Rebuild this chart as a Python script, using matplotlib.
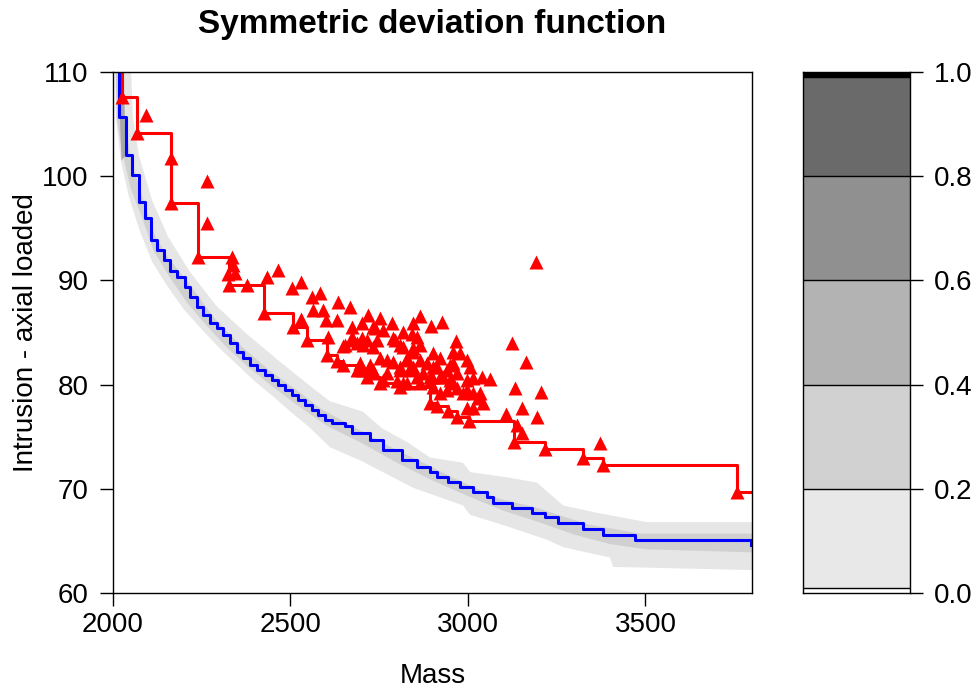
import numpy as np
import matplotlib.pyplot as plt

plt.rcParams['font.family'] = ['Liberation Sans', 'DejaVu Sans']

# observed designs (red triangles), mass / intrusion
obs_mass = [2093, 2163, 2265, 2265, 2335, 2338, 2324, 2344, 2377, 2434, 2465, 2504,
            2530, 2561, 2583, 2634, 2563, 2592, 2668, 2600, 2631, 2530, 2718, 2752,
            2786, 2845, 2865, 2927, 2896, 2673, 2701, 2732, 2761, 2817, 2842, 2856,
            2606, 2648, 2676, 2701, 2687, 2716, 2744, 2789, 2808, 2865, 2966, 3124,
            2817, 2845, 2901, 2921, 2958, 2977, 2997, 3163, 2704, 2732, 2794, 2752,
            2696, 2724, 2789, 2828, 2845, 2828, 2865, 2885, 2913, 2949, 3006, 2732,
            2761, 2772, 2808, 2837, 2856, 2901, 2893, 2921, 2941, 2958, 2837, 2873,
            2899, 2930, 2969, 3039, 3062, 2701, 2732, 2772, 2808, 2845, 2817, 2893,
            2949, 2997, 3014, 2800, 2828, 2865, 2901, 2921, 2969, 2986, 3014, 3028,
            3042, 2997, 2958, 2941, 3132, 3206, 3152, 3194, 3107, 2997, 3014, 3138,
            3152, 3192, 3372, 3034, 2654, 2673, 2738]
obs_intr = [105.9, 101.7, 99.5, 95.5, 92.2, 91.5, 90.6, 90.7, 89.6, 90.3, 91.0, 89.3,
            89.8, 88.4, 88.8, 87.9, 87.2, 87.2, 87.4, 86.2, 86.2, 86.3, 86.7, 86.4,
            85.9, 85.9, 86.6, 86.0, 85.6, 85.5, 85.9, 85.5, 85.2, 85.0, 84.9, 84.6,
            84.6, 83.7, 84.3, 84.5, 84.0, 84.3, 84.3, 84.5, 83.8, 83.8, 84.2, 84.0,
            83.6, 83.1, 83.0, 82.6, 83.1, 83.0, 82.4, 82.2, 83.8, 83.6, 84.3, 82.6,
            82.1, 81.9, 82.2, 82.6, 83.5, 82.4, 82.4, 82.1, 81.7, 81.9, 81.7, 81.4,
            80.4, 82.4, 81.7, 81.6, 80.7, 81.7, 80.7, 80.7, 81.4, 82.1, 81.4, 81.1,
            80.7, 80.7, 81.1, 80.7, 80.5, 81.4, 81.1, 81.1, 81.4, 81.7, 80.2, 80.3,
            80.4, 80.4, 80.6, 80.3, 80.2, 80.2, 79.8, 79.2, 79.7, 79.2, 79.2, 78.7,
            78.2, 79.5, 80.2, 79.5, 79.7, 79.3, 77.8, 76.9, 77.2, 77.8, 77.8, 76.1,
            75.4, 91.8, 74.4, 79.2, 83.8, 84.6, 85.4]

# pareto front of the observations
front_mass = [2014, 2025, 2068, 2163, 2239, 2327, 2425, 2507, 2546, 2603, 2631, 2648,
              2687, 2716, 2752, 2808, 2893, 2913, 2944, 2969, 3003, 3130, 3217, 3324,
              3380, 3758]
front_intr = [113, 107.6, 104.1, 97.4, 92.2, 89.6, 86.9, 85.5, 84.3, 82.8, 82.3, 81.9,
              81.4, 80.7, 80.2, 79.8, 78.2, 77.9, 77.5, 76.9, 76.5, 74.5, 73.8, 73.0,
              72.3, 69.7]

# Vorob'ev expectation (blue)
vorob_mass = [2008, 2017, 2037, 2054, 2073, 2090, 2107, 2124, 2144, 2161, 2180, 2203,
              2217, 2237, 2254, 2273, 2293, 2310, 2330, 2349, 2366, 2386, 2406, 2428,
              2448, 2465, 2485, 2504, 2521, 2541, 2561, 2577, 2597, 2617, 2654, 2673,
              2724, 2761, 2814, 2856, 2893, 2913, 2944, 2977, 3014, 3054, 3070, 3124,
              3180, 3217, 3254, 3324, 3380, 3470, 3797]
vorob_intr = [113, 105.7, 102.0, 100.1, 97.5, 96.0, 93.9, 92.9, 92.0, 90.9, 90.3, 89.4,
              88.4, 87.4, 86.7, 85.9, 85.4, 84.8, 84.0, 83.1, 82.6, 81.9, 81.4, 80.9,
              80.4, 80.0, 79.5, 79.0, 78.5, 78.0, 77.6, 77.1, 76.6, 76.3, 76.0, 75.4,
              74.7, 73.7, 72.8, 72.1, 71.6, 71.1, 70.7, 70.2, 69.7, 69.2, 68.6, 68.2,
              67.7, 67.3, 66.7, 66.1, 65.6, 65.1, 64.6]

# symmetric deviation: outer band (upper and lower edges)
outer_up_mass = [2051, 2056, 2073, 2110, 2155, 2217, 2290, 2372, 2470, 2569, 2611, 2704,
                 2758, 2828, 2893, 2986, 3006, 3110, 3194, 3268, 3363, 3504, 3800]
outer_up_intr = [110.0, 105.7, 102.0, 97.7, 94.2, 90.8, 87.6, 85.0, 82.2, 79.5, 78.4, 77.4,
                 75.8, 74.5, 73.0, 72.5, 71.6, 71.1, 70.6, 68.4, 67.7, 66.8, 66.8]
outer_lo_mass = [2006, 2008, 2022, 2045, 2075, 2110, 2150, 2200, 2250, 2300, 2350, 2400,
                 2450, 2500, 2550, 2611, 2704, 2845, 2986, 3006, 3110, 3223, 3268, 3400,
                 3409, 3549, 3800]
outer_lo_intr = [110.0, 105.7, 101.5, 98.0, 94.8, 91.8, 89.6, 87.2, 85.3, 83.5, 81.9, 80.3,
                 78.9, 77.4, 76.0, 74.0, 72.6, 70.1, 68.4, 67.5, 66.4, 65.1, 64.4, 63.4,
                 62.5, 62.4, 62.2]

# inner band
inner_up_mass = [2031, 2034, 2048, 2085, 2118, 2155, 2214, 2285, 2361, 2439, 2516, 2589,
                 2685, 2772, 2868, 2955, 3082, 3192, 3335, 3485, 3800]
inner_up_intr = [110.0, 105.7, 102.0, 97.7, 94.3, 92.2, 89.7, 86.4, 83.7, 81.4, 79.5, 77.6,
                 75.8, 74.2, 72.6, 71.1, 69.1, 68.2, 66.6, 65.7, 65.7]
inner_lo_mass = [2008, 2011, 2025, 2050, 2080, 2115, 2160, 2210, 2260, 2320, 2380, 2450,
                 2520, 2600, 2700, 2800, 2900, 3000, 3100, 3200, 3300, 3400, 3500, 3800]
inner_lo_intr = [110.0, 105.4, 102.5, 98.8, 96.2, 92.8, 90.3, 87.8, 85.8, 83.6, 81.7, 79.8,
                 78.0, 76.1, 74.4, 72.5, 70.8, 69.3, 67.9, 66.8, 65.6, 64.7, 64.2, 63.9]

# darker patch near the top
core_mass = [2017, 2031, 2036, 2024]
core_intr = [108.0, 108.0, 102.0, 101.5]

# colour scale
levels = [0.0, 0.01, 0.2, 0.4, 0.6, 0.8, 0.99, 1.0]
grays = ['#ffffff', '#e8e8e8', '#d1d1d1', '#b3b3b3', '#909090', '#6a6a6a', '#000000']

fig = plt.figure(figsize=(9.79, 6.91), dpi=100)
ax = fig.add_axes([113 / 979, 98 / 691, 639 / 979, 521 / 691])
cax = fig.add_axes([803 / 979, 98 / 691, 107 / 979, 521 / 691])

ax.fill(outer_up_mass + outer_lo_mass[::-1], outer_up_intr + outer_lo_intr[::-1],
        color='#e6e6e6', lw=0)
ax.fill(inner_up_mass + inner_lo_mass[::-1], inner_up_intr + inner_lo_intr[::-1],
        color='#d0d0d0', lw=0)
ax.fill(core_mass, core_intr, color='#a8a8a8', lw=0)

ax.step(vorob_mass, vorob_intr, where='post', color='#0000ff', lw=2.2)
ax.step(front_mass + [3800], front_intr + [front_intr[-1]], where='post',
        color='#ff0000', lw=2.2)
ax.plot(obs_mass, obs_intr, '^', color='#ff0000', ms=10.5, mec='none')
ax.plot(front_mass, front_intr, '^', color='#ff0000', ms=10.5, mec='none')

ax.set_xlim(2000, 3800)
ax.set_ylim(60, 110)
ax.set_xticks([2000, 2500, 3000, 3500])
ax.set_yticks([60, 70, 80, 90, 100, 110])
ax.tick_params(direction='out', length=9.5, width=1, labelsize=20)
ax.tick_params(axis='x', pad=4)
ax.tick_params(axis='y', pad=8)
for s in ax.spines.values():
    s.set_linewidth(1)
ax.set_xlabel('Mass', fontsize=20, labelpad=18)
ax.set_ylabel('Intrusion - axial loaded', fontsize=20, labelpad=2)
ax.set_title('Symmetric deviation function', fontsize=24, fontweight='bold', pad=28)

# colour bar
for lo, hi, c in zip(levels[:-1], levels[1:], grays):
    cax.axhspan(lo, hi, color=c, lw=0)
for lv in levels[1:-1]:
    cax.axhline(lv, color='black', lw=1)
cax.set_xlim(0, 1)
cax.set_ylim(0, 1)
cax.set_xticks([])
cax.yaxis.tick_right()
cax.set_yticks([0, 0.2, 0.4, 0.6, 0.8, 1.0])
cax.set_yticklabels(['0.0', '0.2', '0.4', '0.6', '0.8', '1.0'])
cax.tick_params(direction='out', length=9.5, width=1, labelsize=20, pad=8)
for s in cax.spines.values():
    s.set_linewidth(1)

fig.savefig('out.png', dpi=100)
